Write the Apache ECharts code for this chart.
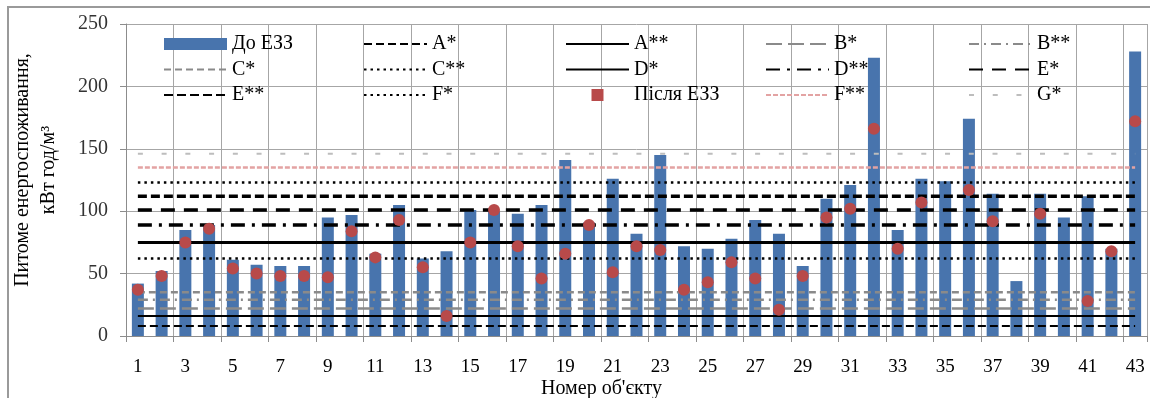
<!DOCTYPE html>
<html>
<head>
<meta charset="utf-8">
<script src="https://cdn.jsdelivr.net/npm/echarts@6/dist/echarts.min.js"></script>
<style>
  html, body { margin: 0; padding: 0; background: #fff; }
  #chart { width: 1150px; height: 398px; }
</style>
</head>
<body>
<div id="chart"></div>
<script>
// номери об'єктів
var objects = [];
for (var i = 1; i <= 43; i++) objects.push(String(i));

// до ЕЗЗ (стовпчики)
var beforeVals = [42, 52, 85, 89, 61, 57, 56, 56, 95, 97, 66, 105, 62, 68, 101, 100, 98, 105, 141, 91,
                  126, 82, 145, 72, 70, 78, 93, 82, 56, 110, 121, 223, 85, 126, 124, 174, 114, 44, 114, 95,
                  112, 70, 228];

// після ЕЗЗ (точки)
var afterVals = [37, 48, 75, 86, 54, 50, 48, 48, 47, 84, 63, 93, 55, 16, 75, 101, 72, 46, 66, 89,
                 51, 72, 69, 37, 43, 59, 46, 21, 48, 95, 102, 166, 70, 107, null, 117, 92, null, 98, null,
                 28, 68, 172];

// нормативні рівні
var refNames  = ['A*', 'A**', 'B*', 'B**', 'C*', 'C**', 'D*', 'D**', 'E*', 'E**', 'F*', 'F**', 'G*'];
var refLevels = [8, 16, 22, 29, 35, 62, 75, 89, 101, 112, 123, 135, 146];

var yTicks = [0, 50, 100, 150, 200, 250];

var serif = 'Liberation Serif';

// стилі ліній для рівнів
var refStyles = {
  'A*':  { color: '#000', width: 2, type: [8, 4] },
  'A**': { color: '#000', width: 2, type: 'solid' },
  'B*':  { color: '#8a8a8a', width: 2.5, type: [16, 6] },
  'B**': { color: '#8a8a8a', width: 2.5, type: [10, 5, 2, 5] },
  'C*':  { color: '#8a8a8a', width: 2.5, type: [7, 4] },
  'C**': { color: '#000', width: 2.5, type: [2.5, 4] },
  'D*':  { color: '#000', width: 3, type: 'solid' },
  'D**': { color: '#000', width: 3.5, type: [14, 7, 3, 7] },
  'E*':  { color: '#000', width: 3.5, type: [14, 9] },
  'E**': { color: '#000', width: 3.5, type: [9, 4] },
  'F*':  { color: '#000', width: 2.5, type: [2.5, 4] },
  'F**': { color: '#e3a3a3', width: 2.5, type: [5, 2] },
  'G*':  { color: '#bdbdbd', width: 2, type: [5, 18.74] }
};

var myChart = echarts.init(document.getElementById('chart'));

var series = [];
series.push({
  name: 'До ЕЗЗ',
  type: 'bar',
  data: beforeVals,
  barWidth: 12,
  itemStyle: { color: '#4874ad' },
  z: 2
});
for (var k = 0; k < refNames.length; k++) {
  var lvl = refLevels[k];
  series.push({
    name: refNames[k],
    type: 'line',
    symbol: 'none',
    data: objects.map(function () { return lvl; }),
    lineStyle: refStyles[refNames[k]],
    itemStyle: { color: refStyles[refNames[k]].color },
    z: 3
  });
}
series.push({
  name: 'Після ЕЗЗ',
  type: 'scatter',
  data: afterVals,
  symbolSize: 12,
  itemStyle: { color: '#b84a4a', opacity: 1 },
  z: 4
});

// легенда: 5 колонок по 3 рядки
var legendCols = [
  ['До ЕЗЗ', 'C*', 'E**'],
  ['A*', 'C**', 'F*'],
  ['A**', 'D*', 'Після ЕЗЗ'],
  ['B*', 'D**', 'F**'],
  ['B**', 'E*', 'G*']
];
var legendLeft = [158, 358, 560, 760, 963];
var legends = legendCols.map(function (col, c) {
  return {
    orient: 'vertical',
    left: legendLeft[c],
    top: 29,
    itemWidth: 63,
    itemHeight: 12,
    itemGap: 5.5,
    selectedMode: false,
    textStyle: { fontFamily: serif, fontSize: 20, color: '#000', lineHeight: 20 },
    data: col.map(function (n) {
      if (n == 'До ЕЗЗ') return { name: n, icon: 'rect' };
      if (n == 'Після ЕЗЗ') return { name: n, icon: 'path://M0,0H10V10H0Z' };
      // тільки лінія, без маркера
      return { name: n, itemStyle: { opacity: 0 } };
    })
  };
});

var option = {
  animation: false,
  backgroundColor: '#fff',
  grid: { left: 126, right: 3, top: 24, bottom: 62, containLabel: false, outerBoundsMode: 'none' },
  legend: legends,
  xAxis: {
    type: 'category',
    data: objects,
    name: "Номер об'єкту",
    nameLocation: 'middle',
    nameGap: 43,
    nameMoveOverlap: false,
    nameTextStyle: { fontFamily: serif, fontSize: 20, color: '#000', padding: [0, 70, 0, 0] },
    axisLine: { lineStyle: { color: '#8c8c8c', width: 1 } },
    axisTick: { show: true, length: 6, lineStyle: { color: '#8c8c8c' } },
    axisLabel: { interval: 1, margin: 22, fontFamily: serif, fontSize: 19, color: '#000' },
    splitLine: { show: true, lineStyle: { color: '#a6a6a6', width: 1 } }
  },
  yAxis: {
    type: 'value',
    min: yTicks[0],
    max: yTicks[yTicks.length - 1],
    interval: 50,
    name: 'Питоме енергоспоживання,\nкВт год/м³',
    nameLocation: 'middle',
    nameRotate: 90,
    nameGap: 64,
    nameMoveOverlap: false,
    nameTextStyle: { fontFamily: serif, fontSize: 20, color: '#000', lineHeight: 26, padding: [0, 0, 0, 20] },
    axisLine: { show: true, lineStyle: { color: '#8c8c8c', width: 1 } },
    axisTick: { show: true, length: 6, lineStyle: { color: '#8c8c8c' } },
    axisLabel: { margin: 18, fontFamily: serif, fontSize: 20, color: '#333' },
    splitLine: { show: true, lineStyle: { color: '#a6a6a6', width: 1 } }
  },
  graphic: [{
    type: 'rect',
    shape: { x: 8, y: 7, width: 1160, height: 420 },
    style: { fill: 'none', stroke: '#9a9a9a', lineWidth: 2 },
    silent: true
  }],
  series: series
};

myChart.setOption(option);
</script>
</body>
</html>
